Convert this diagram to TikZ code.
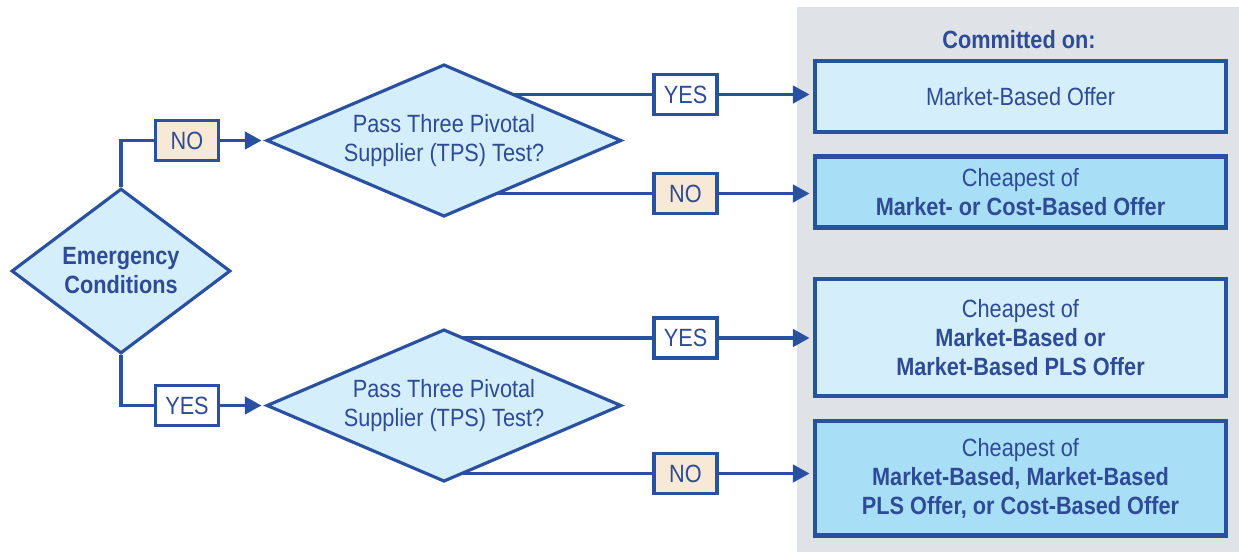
\documentclass[tikz,border=0pt]{standalone}
\usepackage{fontspec}
\setmainfont{Liberation Sans}[FakeStretch=0.87]
\usetikzlibrary{shapes.geometric,arrows.meta}
\definecolor{lineblue}{HTML}{2A50A0}
\definecolor{textblue}{HTML}{2E4B96}
\definecolor{paleblue}{HTML}{D5EEFB}
\definecolor{deepblue}{HTML}{A9DEF7}
\definecolor{panelgray}{HTML}{DFE3E8}
\definecolor{beige}{HTML}{F7E9D6}

\begin{document}
\begin{tikzpicture}[x=0.02cm,y=-0.02cm,
    font=\fontsize{14.2}{16.5}\selectfont,text=textblue,
    flow/.style={lineblue,line width=1.8pt},
    arr/.style={flow,-{Triangle[length=9.5pt,width=10pt]},shorten >=2pt},
    decide/.style={diamond,draw=lineblue,line width=1.8pt,fill=paleblue,align=center,inner sep=0pt,aspect=2},
    tag/.style={draw=lineblue,line width=1.8pt,minimum width=1.26cm,minimum height=0.8cm,inner sep=0pt},
    result/.style={draw=lineblue,line width=2.3pt,minimum width=8.22cm,align=center,inner sep=0pt}]
          \useasboundingbox (0,0) rectangle (1239,552);
          \fill[panelgray] (797,7) rectangle (1239,552);
          \node[font=\fontsize{14.2}{16.5}\selectfont\bfseries] (head) at (1019,40) {Committed on:};
          \node[result,fill=paleblue,minimum height=1.42cm] (resA) at (1020.5,96.5) {Market-Based Offer};
          \node[result,fill=deepblue,minimum height=1.42cm] (resB) at (1020.5,192) {Cheapest of\\\textbf{Market- or Cost-Based Offer}};
          \node[result,fill=paleblue,minimum height=2.34cm] (resC) at (1020.5,337.5) {Cheapest of\\\textbf{Market-Based or}\\\textbf{Market-Based PLS Offer}};
          \node[result,fill=deepblue,minimum height=2.3cm] (resD) at (1020.5,478) {Cheapest of\\\textbf{Market-Based, Market-Based}\\\textbf{PLS Offer, or Cost-Based Offer}};
          \node[tag,fill=beige] (noL) at (187,140.5) {NO};
          \node[tag,fill=white] (yesL) at (187,405.5) {YES};
          \node[tag,fill=white] (yesA) at (685.5,94.5) {YES};
          \node[tag,fill=beige] (noA) at (685.5,193.5) {NO};
          \node[tag,fill=white] (yesB) at (685.5,338) {YES};
          \node[tag,fill=beige] (noB) at (685.5,473.5) {NO};
          \coordinate (tpsAc) at (444,140.5);
          \coordinate (tpsBc) at (444,405.5);
          \draw[flow] (tpsAc |- yesA) -- (yesA.west);
          \draw[flow] (tpsAc |- noA) -- (noA.west);
          \draw[flow] (tpsBc |- yesB) -- (yesB.west);
          \draw[flow] (tpsBc |- noB) -- (noB.west);
          \node[decide,minimum width=7.1cm,minimum height=2.94cm] (tpsA) at (tpsAc) {Pass Three Pivotal\\Supplier (TPS) Test?};
          \node[decide,minimum width=7.1cm,minimum height=2.94cm] (tpsB) at (tpsBc) {Pass Three Pivotal\\Supplier (TPS) Test?};
          \node[decide,minimum width=4.38cm,minimum height=3.3cm,font=\fontsize{14.2}{16.5}\selectfont\bfseries] (emg) at (121,271) {Emergency\\Conditions};
          \draw[flow] (emg.north) |- (noL.west);
          \draw[flow] (emg.south) |- (yesL.west);
          \draw[arr] (noL.east) -- (tpsA.west);
          \draw[arr] (yesL.east) -- (tpsB.west);
          \draw[arr] (yesA.east) -- (yesA -| resA.west);
          \draw[arr] (noA.east) -- (noA -| resB.west);
          \draw[arr] (yesB.east) -- (yesB -| resC.west);
          \draw[arr] (noB.east) -- (noB -| resD.west);
        \end{tikzpicture}
\end{document}
